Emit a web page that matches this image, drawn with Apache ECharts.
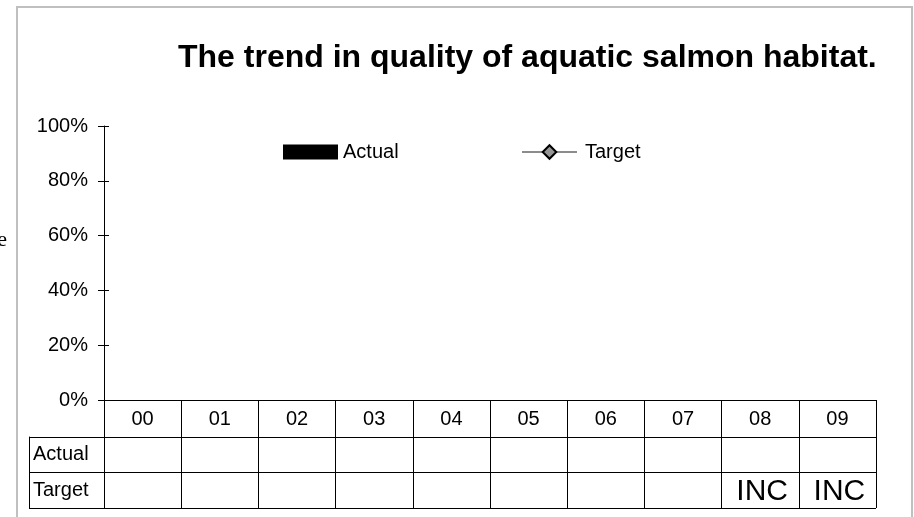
<!DOCTYPE html>
<html>
<head>
<meta charset="utf-8">
<script src="https://cdn.jsdelivr.net/npm/echarts@6/dist/echarts.min.js"></script>
<style>
  html, body { margin: 0; padding: 0; background: #fff; }
  #main { width: 914px; height: 517px; }
</style>
</head>
<body>
<div id="main"></div>
<script>
// chart data
var categories = ['00', '01', '02', '03', '04', '05', '06', '07', '08', '09'];
var actualValues = [null, null, null, null, null, null, null, null, null, null];
var targetValues = [null, null, null, null, null, null, null, null, null, null];
var actualTable = ['', '', '', '', '', '', '', '', '', ''];
var targetTable = ['', '', '', '', '', '', '', '', 'INC', 'INC'];
var rowNames = ['Actual', 'Target'];

var FONT = 'Liberation Sans, Arial, sans-serif';

// table text cells -> scatter points on the table grid
var tableCells = [];
categories.forEach(function (c, i) {
    if (actualTable[i] !== '') tableCells.push({value: [c, 'Actual'], label: {formatter: actualTable[i]}});
    if (targetTable[i] !== '') tableCells.push({value: [c, 'Target'], label: {formatter: targetTable[i]}});
});

var chart = echarts.init(document.getElementById('main'));

var option = {
    animation: false,
    backgroundColor: '#fff',
    title: {
        text: 'The trend in quality of aquatic salmon habitat.',
        left: 178,
        top: 42,
        padding: 0,
        textStyle: {fontFamily: FONT, fontSize: 32, fontWeight: 'bold', color: '#000'}
    },
    legend: [
        {
            data: [{name: 'Actual', icon: 'rect'}],
            left: 283,
            top: 142,
            padding: 0,
            itemWidth: 55,
            itemHeight: 15,
            textStyle: {fontFamily: FONT, fontSize: 20, color: '#000', padding: [0, 0, 0, 0]}
        },
        {
            data: ['Target'],
            left: 521,
            top: 142,
            padding: 0,
            itemWidth: 55,
            itemHeight: 17,
            textStyle: {fontFamily: FONT, fontSize: 20, color: '#000', padding: [0, 0, 0, 3]}
        }
    ],
    graphic: [
        {
            type: 'rect',
            shape: {x: 17, y: 7, width: 895, height: 530},
            style: {fill: 'none', stroke: '#c0c0c0', lineWidth: 2},
            silent: true
        },
        {
            type: 'text',
            x: 7,
            y: 240,
            style: {
                text: 'e',
                font: '22px "Liberation Serif", serif',
                fill: '#000',
                textAlign: 'right',
                verticalAlign: 'middle'
            }
        }
    ],
    grid: [
        {left: 104, right: 38, top: 126, height: 274},
        {left: 104, right: 38, top: 437, height: 71}
    ],
    xAxis: [
        {
            type: 'category',
            gridIndex: 0,
            data: categories,
            boundaryGap: true,
            axisLine: {lineStyle: {color: '#000', width: 1}},
            axisTick: {show: true, length: 108, lineStyle: {color: '#000', width: 1}},
            axisLabel: {margin: 9, fontFamily: FONT, fontSize: 20, color: '#000'},
            splitLine: {show: false}
        },
        {
            type: 'category',
            gridIndex: 1,
            data: categories,
            boundaryGap: true,
            show: false
        }
    ],
    yAxis: [
        {
            type: 'value',
            gridIndex: 0,
            min: 0,
            max: 1,
            interval: 0.2,
            axisLine: {show: true, lineStyle: {color: '#000', width: 1}},
            axisTick: {show: true, length: 6, lineStyle: {color: '#000'}},
            axisLabel: {
                margin: 16,
                fontFamily: FONT,
                fontSize: 20,
                color: '#000',
                formatter: function (v) { return Math.round(v * 100) + '%'; }
            },
            splitLine: {show: false}
        },
        {
            // inner half of the crossing ticks
            type: 'value',
            gridIndex: 0,
            min: 0,
            max: 1,
            interval: 0.2,
            position: 'left',
            axisLine: {show: false},
            axisTick: {show: true, inside: true, length: 5, lineStyle: {color: '#000'}},
            axisLabel: {show: false},
            splitLine: {show: false}
        },
        {
            type: 'category',
            gridIndex: 1,
            data: rowNames,
            inverse: true,
            boundaryGap: true,
            axisLine: {show: true, lineStyle: {color: '#000'}},
            axisTick: {show: true, length: 75, lineStyle: {color: '#000'}},
            axisLabel: {align: 'left', margin: 71, fontFamily: FONT, fontSize: 20, color: '#000'},
            splitLine: {show: true, lineStyle: {color: '#000', width: 1}}
        },
        {
            // left edge of the row header column
            type: 'category',
            gridIndex: 1,
            data: rowNames,
            inverse: true,
            position: 'left',
            offset: 75,
            axisLine: {show: true, lineStyle: {color: '#000'}},
            axisTick: {show: false},
            axisLabel: {show: false}
        }
    ],
    series: [
        {
            name: 'Actual',
            type: 'bar',
            xAxisIndex: 0,
            yAxisIndex: 0,
            data: actualValues,
            itemStyle: {color: '#000'}
        },
        {
            name: 'Target',
            type: 'line',
            xAxisIndex: 0,
            yAxisIndex: 0,
            data: targetValues,
            symbol: 'diamond',
            symbolSize: 14,
            lineStyle: {color: '#8c8c8c', width: 2},
            itemStyle: {color: '#969696', borderColor: '#000', borderWidth: 2}
        },
        {
            name: 'table',
            type: 'scatter',
            xAxisIndex: 1,
            yAxisIndex: 2,
            symbolSize: 0,
            silent: true,
            data: tableCells,
            itemStyle: {opacity: 1},
            label: {
                show: true,
                position: 'inside',
                offset: [2, 1],
                fontFamily: FONT,
                fontSize: 30,
                color: '#000'
            }
        }
    ]
};

chart.setOption(option);
</script>
</body>
</html>
